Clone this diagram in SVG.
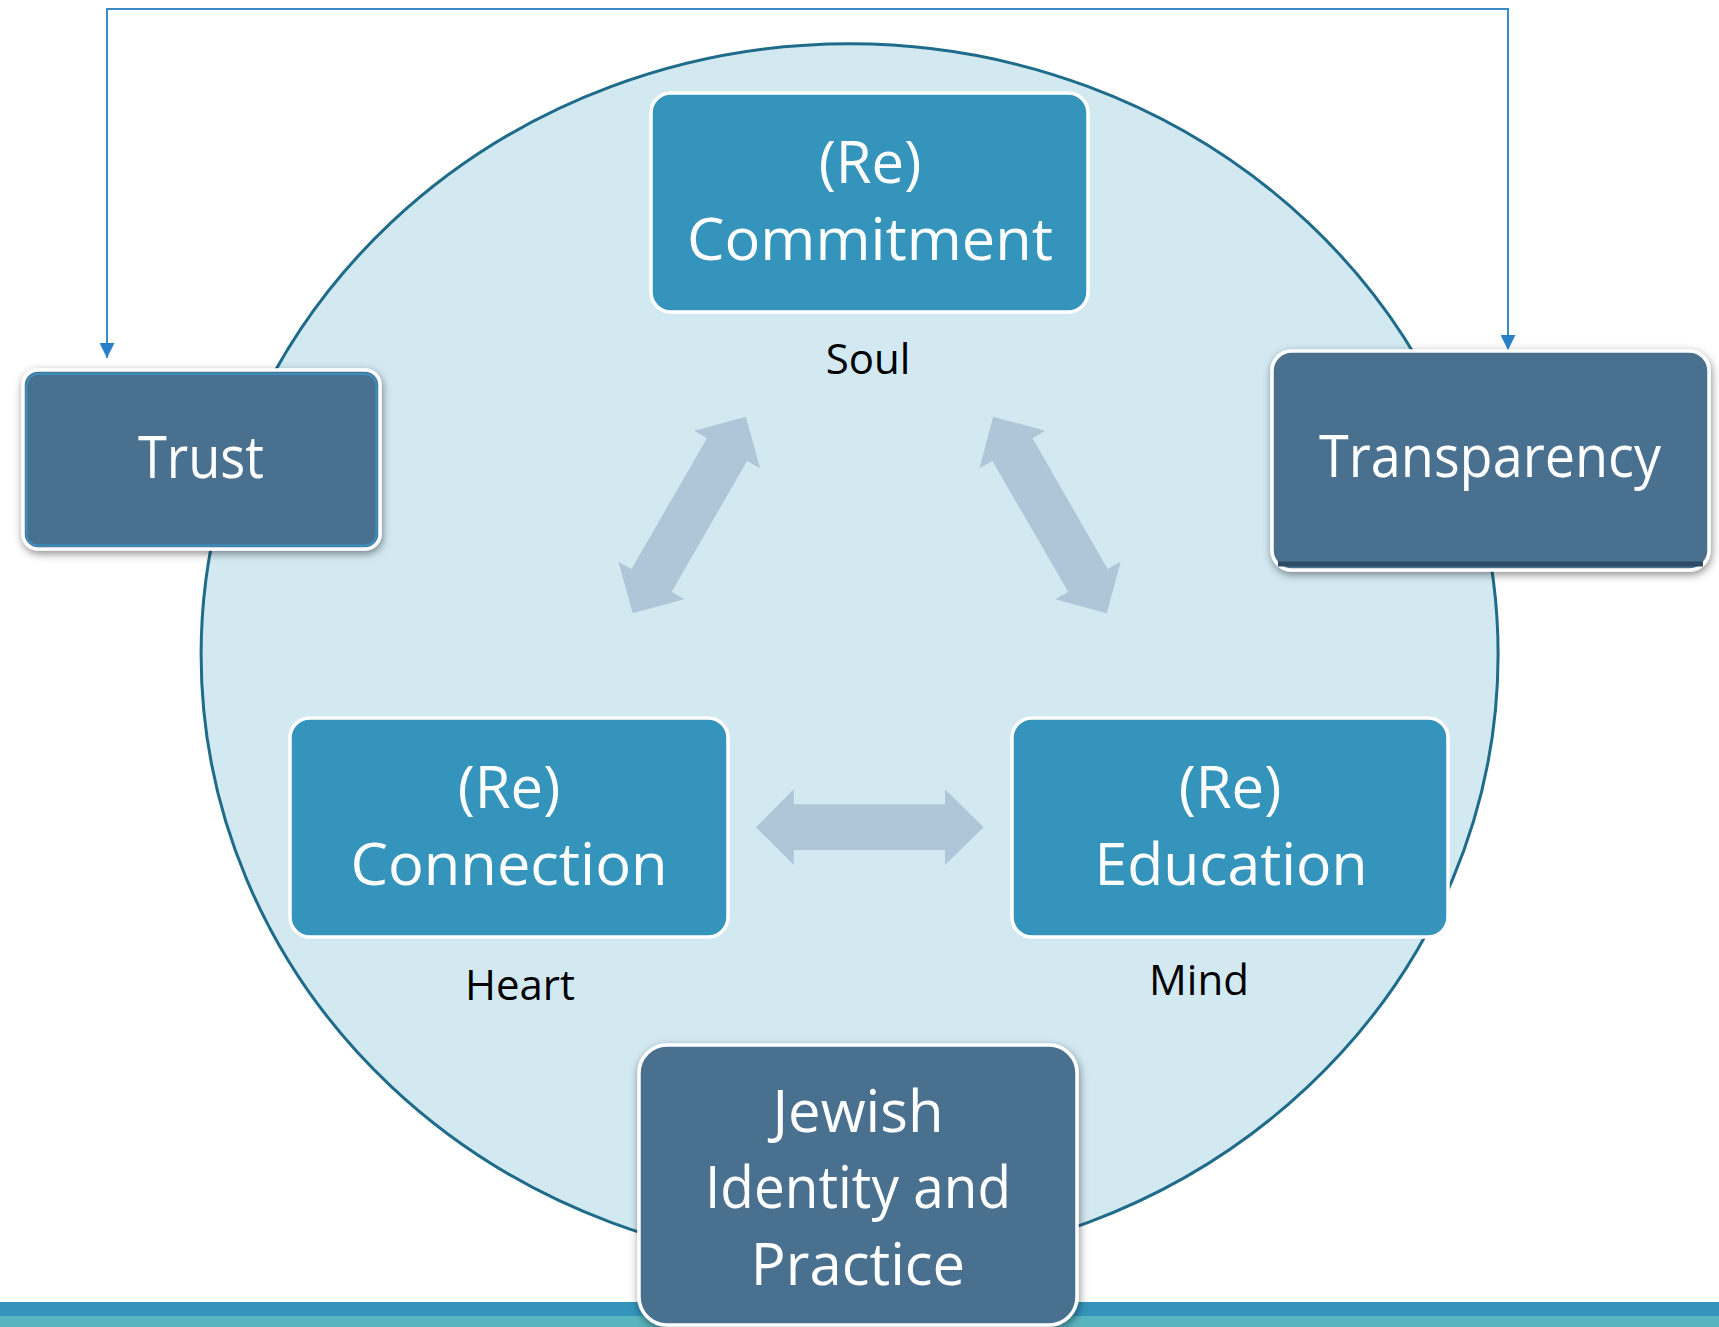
<svg xmlns="http://www.w3.org/2000/svg" width="1719" height="1327" viewBox="0 0 1719 1327">
<style>
.box{fill:#3594BB;stroke:#FFFFFF;stroke-width:3.5}
.sbox{fill:#4A6F8F;stroke:#FFFFFF;stroke-width:3.5}
.t{font-family:"Open Sans","Noto Sans","Liberation Sans",sans-serif;fill:#FFFFFF;text-anchor:middle;font-size:58px}
.lbl{font-family:"Open Sans","Noto Sans","Liberation Sans",sans-serif;fill:#000000;text-anchor:middle;font-size:42px}
.ar{fill:#AFC6D9}
.conn{fill:none;stroke:#3A8CC8;stroke-width:2}
</style>
<defs>
<marker id="ah" viewBox="0 0 10 10" refX="10" refY="5" markerWidth="15" markerHeight="15" markerUnits="userSpaceOnUse" orient="auto-start-reverse">
<path d="M0,0 L10,5 L0,10 z" fill="#2A80C8"/>
</marker>
<filter id="sh" x="-10%" y="-10%" width="120%" height="130%">
<feDropShadow dx="1" dy="3" stdDeviation="4" flood-color="#000000" flood-opacity="0.45"/>
</filter>
</defs>
<rect x="0" y="0" width="1719" height="1327" fill="#FFFFFF"/>
<g id="bands">
<rect x="0" y="1302" width="1719" height="14" fill="#3594BB"/>
<rect x="0" y="1316" width="1719" height="11" fill="#58B5BF"/>
</g>
<g id="circle">
<ellipse cx="849.6" cy="654.5" rx="648.5" ry="610.7" fill="#D3E9F2" stroke="#1F6B8A" stroke-width="3"/>
</g>
<g id="cycle-arrows">
<polygon class="ar" points="745.9,416.7 760.1,468.3 747.1,461 671.7,591.7 684.3,599.3 632.7,613.3 618.5,561.7 631.5,569 706.9,438.3 694.3,430.7"/>
<polygon class="ar" points="993.2,416.7 979.4,468.3 992.4,461 1068.2,591.7 1055.2,599.3 1106.8,613.3 1120.6,561.7 1107.6,569 1032.6,438.3 1045.2,430.7"/>
<polygon class="ar" points="755.9,827.3 793.8,789.3 793.8,804.3 945,804.3 945,789.3 983.6,827.3 945,865 945,850 793.8,850 793.8,865"/>
</g>
<g id="connectors">
<path class="conn" d="M107,358 L107,9 L1508,9 L1508,350" marker-start="url(#ah)" marker-end="url(#ah)"/>
</g>
<g id="commitment">
<rect class="box" x="651" y="93" width="437" height="219" rx="20"/>
<text class="t" x="870" y="183">(Re)</text>
<text class="t" x="870" y="260" textLength="366" lengthAdjust="spacingAndGlyphs">Commitment</text>
<text class="lbl" x="868" y="374">Soul</text>
</g>
<g id="connection">
<rect class="box" x="290" y="718" width="438" height="219" rx="20"/>
<text class="t" x="509" y="808">(Re)</text>
<text class="t" x="509" y="885" textLength="317" lengthAdjust="spacingAndGlyphs">Connection</text>
<text class="lbl" x="520" y="1000">Heart</text>
</g>
<g id="education">
<rect class="box" x="1012" y="718" width="436" height="219" rx="20"/>
<text class="t" x="1230" y="808">(Re)</text>
<text class="t" x="1231" y="885" textLength="273" lengthAdjust="spacingAndGlyphs">Education</text>
<text class="lbl" x="1199" y="995">Mind</text>
</g>
<g id="trust">
<rect class="sbox" x="23" y="370" width="357" height="179" rx="15" filter="url(#sh)"/>
<rect x="26.5" y="374" width="350" height="171.5" rx="12" fill="none" stroke="#3A8FBF" stroke-width="2"/>
<text class="t" x="201" y="478" textLength="126" lengthAdjust="spacingAndGlyphs">Trust</text>
</g>
<g id="transparency">
<rect class="sbox" x="1272" y="351" width="437" height="219" rx="20" filter="url(#sh)"/>
<path d="M1278,564 L1703,564" stroke="#2E4B66" stroke-width="5"/>
<text class="t" x="1490" y="477" textLength="342" lengthAdjust="spacingAndGlyphs">Transparency</text>
</g>
<g id="jewish">
<rect class="sbox" x="639" y="1045" width="438" height="280" rx="28" filter="url(#sh)"/>
<text class="t" x="858" y="1132">Jewish</text>
<text class="t" x="858" y="1208" textLength="306" lengthAdjust="spacingAndGlyphs">Identity and</text>
<text class="t" x="858" y="1285">Practice</text>
</g>
</svg>
